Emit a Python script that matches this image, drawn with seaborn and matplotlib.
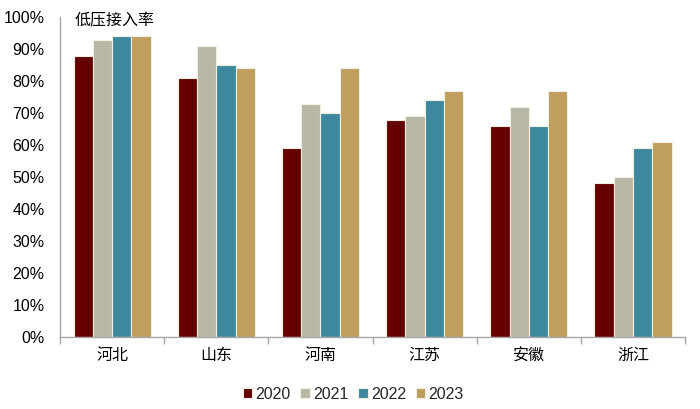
import matplotlib
matplotlib.use("Agg")
import matplotlib.pyplot as plt
import seaborn as sns
import pandas as pd
from matplotlib.ticker import PercentFormatter, FixedLocator

provinces = ["河北", "山东", "河南", "江苏", "安徽", "浙江"]
years = ["2020", "2021", "2022", "2023"]
v2020 = [88, 81, 59, 68, 66, 48]
v2021 = [93, 91, 73, 69, 72, 50]
v2022 = [94, 85, 70, 74, 66, 59]
v2023 = [94, 84, 84, 77, 77, 61]
colors = ["#660000", "#B9B8A6", "#3C889C", "#BF9E5E"]

rows = []
for y, vals in zip(years, [v2020, v2021, v2022, v2023]):
    for p, v in zip(provinces, vals):
        rows.append({"省份": p, "年份": y, "值": v})
df = pd.DataFrame(rows)

sns.set_theme(style="white")
plt.rcParams["font.family"] = ["Liberation Sans", "Noto Sans CJK SC"]

fig = plt.figure(figsize=(7, 4.09), dpi=100)
ax = fig.add_axes([0.0857, 0.176, 0.893, 0.782])
sns.barplot(data=df, x="省份", y="值", hue="年份", palette=colors, saturation=1,
            width=0.74, edgecolor="#F2EEE2", linewidth=0.8, ax=ax, legend=True)

ax.set_ylim(0, 100)
ax.set_xlim(-0.5, 5.5)
ax.yaxis.set_major_locator(FixedLocator(range(0, 101, 10)))
ax.yaxis.set_major_formatter(PercentFormatter(decimals=0))
ax.set_xlabel("")
ax.set_ylabel("")
for s in ["top", "right"]:
    ax.spines[s].set_visible(False)
for s in ["left", "bottom"]:
    ax.spines[s].set_color("#A6A6A6")
    ax.spines[s].set_linewidth(1.0)
ax.tick_params(axis="y", length=0, labelsize=11.5, colors="#000000", pad=11)
ax.tick_params(axis="x", which="major", length=0, labelsize=11.5, pad=8)
ax.set_xticks([i - 0.5 for i in range(7)], minor=True)
ax.tick_params(axis="x", which="minor", length=5, color="#A6A6A6", bottom=True)
for lbl in ax.get_xticklabels():
    lbl.set_color("#000000")

fig.text(75 / 700, 1 - 21 / 409, "低压接入率", fontsize=11.5,
         ha="left", va="center", color="#000000")

leg = ax.legend(loc="upper center", bbox_to_anchor=(0.469, -0.11), ncol=4,
                frameon=False, fontsize=11.5, handlelength=0.6, handleheight=0.6,
                handletextpad=0.2, columnspacing=0.6)

fig.savefig("out.png", dpi=100, facecolor="white")
